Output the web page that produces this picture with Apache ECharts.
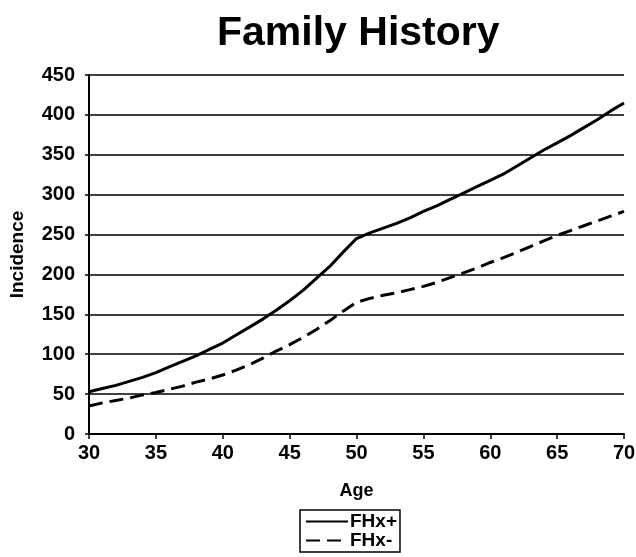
<!DOCTYPE html>
<html><head><meta charset="utf-8">
<script src="https://cdn.jsdelivr.net/npm/echarts@6/dist/echarts.min.js"></script>
<style>html,body{margin:0;padding:0;background:#fff}#c{width:636px;height:557px}</style>
</head><body><div id="c"></div>
<script>
const ages = [30,31,32,33,34,35,36,37,38,39,40,41,42,43,44,45,46,47,48,49,50,51,52,53,54,55,56,57,58,59,60,61,62,63,64,65,66,67,68,69,70];
const fhxPos = [53,57,61,66,71,77,84,91,98,106,114,124,134,144,155,167,180,195,210,228,245,252,258,264,271,279,286,294,302,310,318,326,336,346,356,365,374,384,394,405,415];
const fhxNeg = [35,39,42,45,49,52,56,60,65,69,74,80,87,95,104,112,121,131,142,154,165,170,174,177,181,185,190,196,202,208,215,221,228,235,242,249,255,261,267,273,279];
const yTicks = [0,50,100,150,200,250,300,350,400,450];
const xTicks = [30,35,40,45,50,55,60,65,70];

const FONT = '"Liberation Sans", Arial, sans-serif';
const chart = echarts.init(document.getElementById('c'), null, {renderer:'canvas'});
chart.setOption({
  animation:false,
  backgroundColor:'#fff',
  title:{text:'Family History', left:212, top:8,
    textStyle:{fontFamily:FONT, fontWeight:'bold', fontSize:41, color:'#000'}},
  grid:{left:89, right:12, top:75, bottom:123, containLabel:false, outerBoundsMode:'none'},
  xAxis:{type:'value', min:xTicks[0], max:xTicks[xTicks.length-1], interval:5,
    name:'Age', nameLocation:'middle', nameGap:48,
    nameTextStyle:{fontFamily:FONT, fontWeight:'bold', fontSize:18, color:'#000'},
    axisLine:{lineStyle:{color:'#000', width:2}},
    axisTick:{show:true, length:5, lineStyle:{color:'#000', width:1.5}},
    axisLabel:{fontFamily:FONT, fontWeight:'bold', fontSize:20, color:'#000', margin:9},
    splitLine:{show:false}},
  yAxis:{type:'value', min:yTicks[0], max:yTicks[yTicks.length-1], interval:50,
    name:'Incidence', nameLocation:'middle', nameGap:62, nameRotate:90,
    nameTextStyle:{fontFamily:FONT, fontWeight:'bold', fontSize:19, color:'#000'},
    axisLine:{show:true, lineStyle:{color:'#000', width:2}},
    axisTick:{show:true, length:4, lineStyle:{color:'#000', width:1.5}},
    axisLabel:{fontFamily:FONT, fontWeight:'bold', fontSize:20, color:'#000', margin:14},
    splitLine:{show:true, lineStyle:{color:'#000', width:1.5}}},
  legend:{orient:'vertical', left:300, top:510, padding:[2,3,2,5], itemGap:0,
    itemWidth:42, itemHeight:18, borderColor:'#000', borderWidth:1.5,
    itemStyle:{opacity:0},
    textStyle:{fontFamily:FONT, fontWeight:'bold', fontSize:19, color:'#000', padding:[0,0,0,-3]},
    data:['FHx+','FHx-']},
  series:[
    {name:'FHx+', type:'line', showSymbol:false, symbol:'none', smooth:false,
      data: ages.map((a,i)=>[a,fhxPos[i]]),
      lineStyle:{color:'#000', width:3}, itemStyle:{color:'#000'}},
    {name:'FHx-', type:'line', showSymbol:false, symbol:'none', smooth:false,
      data: ages.map((a,i)=>[a,fhxNeg[i]]),
      lineStyle:{color:'#000', width:3, type:[14,7]}, itemStyle:{color:'#000'}}
  ]
});
</script></body></html>
